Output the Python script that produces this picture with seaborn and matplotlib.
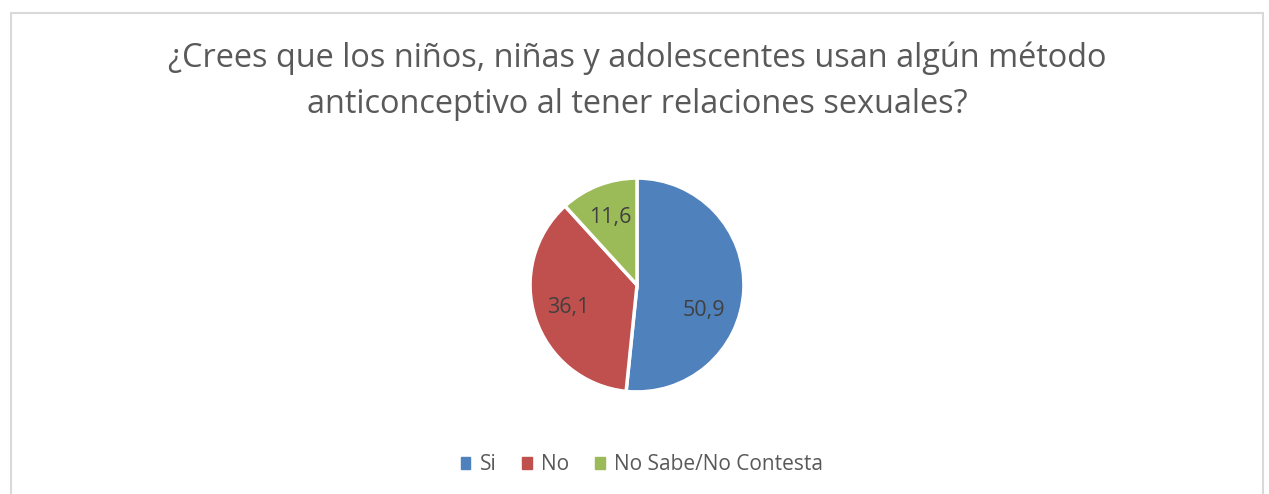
import matplotlib
matplotlib.use("Agg")
import matplotlib.pyplot as plt
import matplotlib.patches as mpatches
import seaborn as sns

# Data
categories = ["Si", "No", "No Sabe/No Contesta"]
values = [50.9, 36.1, 11.6]
value_labels = ["50,9", "36,1", "11,6"]
colors = ["#4F81BD", "#C0504D", "#9BBB59"]
title = ("¿Crees que los niños, niñas y adolescentes usan algún método\n"
         "anticonceptivo al tener relaciones sexuales?")

sns.set_theme(style="white")
plt.rcParams["font.family"] = ["Open Sans", "DejaVu Sans"]

W, H = 1269, 494
fig = plt.figure(figsize=(W / 100, H / 100), dpi=100)

# chart area border (light gray, runs off the bottom of the picture)
fig.patches.append(mpatches.Rectangle((11 / W, -0.05), (1263 - 11) / W, 1.05 - 13 / H,
                                      transform=fig.transFigure, fill=False,
                                      edgecolor="#D9D9D9", linewidth=1.5))

fig.text(637 / W, 1 - 81 / H, title, ha="center", va="center",
         fontsize=23.4, color="#595959", linespacing=1.5)

# pie axes: centre (637, 285), radius ~108 px
cx, cy, r = 637, 285, 108
ax = fig.add_axes([(cx - r) / W, (H - cy - r) / H, 2 * r / W, 2 * r / H])
label_iter = iter(value_labels)
wedges, texts, autotexts = ax.pie(
    values, colors=colors, startangle=90, counterclock=False,
    wedgeprops=dict(edgecolor="white", linewidth=2.5),
    autopct=lambda p: next(label_iter), pctdistance=0.68,
    textprops=dict(fontsize=15.5, color="#404040"))
# Excel's "best fit" puts the big slice label a bit lower than the bisector
x0, y0 = autotexts[0].get_position()
autotexts[0].set_position((x0 - 0.05, y0 - 0.2))
ax.set_aspect("equal")
ax.set_xlim(-1.01, 1.01)
ax.set_ylim(-1.01, 1.01)
ax.axis("off")

handles = [mpatches.Patch(color=c, label=l) for c, l in zip(colors, categories)]
fig.legend(handles=handles, loc="center", bbox_to_anchor=(642 / W, 1 - 465 / H),
           ncol=3, frameon=False, fontsize=15, handlelength=0.45, handleheight=0.45,
           handletextpad=0.45, columnspacing=1.25, labelcolor="#595959")

fig.savefig("out.png", dpi=100)
